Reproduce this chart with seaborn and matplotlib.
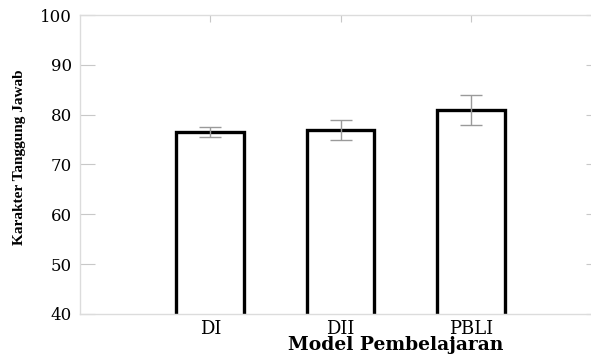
import matplotlib
matplotlib.use("Agg")
import matplotlib.pyplot as plt
import seaborn as sns
import pandas as pd
import numpy as np

categories = ["DI", "DII", "PBLI"]
means = [76.5, 77.0, 81.0]
errors = [1.0, 2.0, 3.0]
yticks = [40, 50, 60, 70, 80, 90, 100]

sns.set_style("white")
plt.rcParams['font.family'] = ['DejaVu Serif']
plt.rcParams['text.color'] = 'black'
plt.rcParams['axes.labelcolor'] = 'black'
plt.rcParams['xtick.labelcolor'] = 'black'
plt.rcParams['ytick.labelcolor'] = 'black'

df = pd.DataFrame({"model": categories, "score": means})

fig = plt.figure(figsize=(5.91, 3.54), dpi=100)
ax = fig.add_axes([80/591, 1 - 314/354, (601-80)/591, (314-15)/354])

sns.barplot(data=df, x="model", y="score", order=categories, ax=ax,
            color="white", edgecolor="black", linewidth=2.4, width=0.52,
            errorbar=None, saturation=1)

ax.errorbar(np.arange(len(categories)), means, yerr=errors, fmt="none",
            ecolor="#9a9a9a", elinewidth=1.0, capsize=8, capthick=1.0, zorder=5)

ax.set_xlim(-1, 3)
ax.set_ylim(40, 100)
ax.set_yticks(yticks)
ax.set_yticklabels([str(v) for v in yticks])

for s in ax.spines.values():
    s.set_visible(True)
    s.set_color("#dcdcdc")
    s.set_linewidth(1.0)

ax.tick_params(axis="y", direction="in", length=11, width=0.8, color="#c8c8c8",
               left=True, right=True, labelsize=12, pad=6, labelcolor="black")
ax.tick_params(axis="x", direction="in", length=5, width=0.8, color="#c8c8c8",
               bottom=True, top=True, labelsize=13, pad=4, labelcolor="black")

ax.set_xlabel("Model Pembelajaran", fontsize=13.5, fontweight="bold", color="black")
ax.xaxis.set_label_coords(0.605, -0.075)
ax.set_ylabel("Karakter Tanggung Jawab", fontsize=11, fontweight="bold",
              family=["Liberation Serif"], color="black")
ax.yaxis.set_label_coords(-0.104, 0.525)

fig.savefig("out.png", dpi=100)
